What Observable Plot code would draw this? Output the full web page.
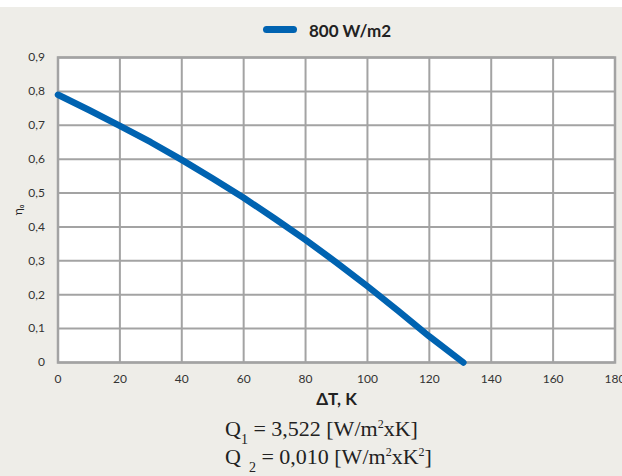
<!DOCTYPE html>
<html>
<head>
<meta charset="utf-8">
<script src="https://cdn.jsdelivr.net/npm/d3@7"></script>
<script src="https://cdn.jsdelivr.net/npm/@observablehq/plot@0.6"></script>
<style>
html, body { margin: 0; padding: 0; background: #ffffff; }
#wrap { position: absolute; top: 7px; left: 0; width: 622px; height: 469px; background: #eeede8; font-family: Lato, "Open Sans", sans-serif; overflow: hidden; }
#legend { position: relative; height: 40px; }
#legend .sw { position: absolute; left: 263px; top: 19px; width: 34px; height: 7px; border-radius: 4px; background: #0063b1; }
#legend .lt { position: absolute; left: 309px; top: 14px; font-weight: bold; font-size: 17px; line-height: 20px; color: #222; }
#chart svg { display: block; }
#formula { font-family: "Liberation Serif", "Times New Roman", serif; font-size: 22px; color: #222; padding-left: 225px; margin-top: 3px; }
#formula .ln { line-height: 28px; height: 28px; white-space: nowrap; }
#formula .sb { font-size: 14px; position: relative; top: 8px; line-height: 0; }
#formula .sp { font-size: 12px; position: relative; top: -8px; line-height: 0; }
</style>
</head>
<body>
<div id="wrap">
  <div id="legend"><div class="sw"></div><div class="lt" id="legtext"></div></div>
  <div id="chart"></div>
  <div id="formula">
    <div class="ln">Q<span class="sb">1</span> = 3,522 [W/m<span class="sp">2</span>xK]</div>
    <div class="ln">Q<span class="sb" style="margin-left:8px">2</span> = 0,010 [W/m<span class="sp">2</span>xK<span class="sp">2</span>]</div>
  </div>
</div>
<script>
// Data
const seriesName = "800 W/m2";
const deltaT = [0, 10, 20, 30, 40, 50, 60, 70, 80, 90, 100, 110, 120, 131];
const eta    = [0.79, 0.745, 0.698, 0.65, 0.598, 0.543, 0.486, 0.425, 0.362, 0.295, 0.225, 0.152, 0.077, 0];
const xTicks = [0, 20, 40, 60, 80, 100, 120, 140, 160, 180];
const yTicks = [0, 0.1, 0.2, 0.3, 0.4, 0.5, 0.6, 0.7, 0.8, 0.9];
const xLabel = "ΔT, K";
const yLabel = "ηₒ";

document.getElementById("legtext").textContent = seriesName;

const data = deltaT.map((d, i) => ({dT: d, eta: eta[i]}));
const comma = d => String(d).replace(".", ",");
const gridColor = "#a3a3a3";

const chart = Plot.plot({
  width: 622,
  height: 365,
  marginTop: 10,
  marginBottom: 50,
  marginLeft: 57.5,
  marginRight: 7.5,
  style: {background: "transparent", fontFamily: "Lato, 'Open Sans', sans-serif", fontSize: "12px", color: "#333", overflow: "visible"},
  x: {domain: [0, 180], ticks: xTicks, tickSize: 0, tickPadding: 12, label: xLabel, labelAnchor: "center", labelOffset: 42, labelArrow: "none"},
  y: {domain: [0, 0.9], ticks: yTicks, tickSize: 0, tickPadding: 13, tickFormat: comma, label: yLabel, labelAnchor: "center", labelOffset: 45, labelArrow: "none"},
  marks: [
    Plot.frame({fill: "white"}),
    Plot.gridX(xTicks, {stroke: gridColor, strokeWidth: 2, strokeOpacity: 1}),
    Plot.gridY(yTicks, {stroke: gridColor, strokeWidth: 2, strokeOpacity: 1}),
    Plot.frame({stroke: gridColor, strokeWidth: 2.5}),
    Plot.line(data, {x: "dT", y: "eta", stroke: "#0063b1", strokeWidth: 6.5, strokeLinecap: "round", strokeLinejoin: "round"})
  ]
});
document.getElementById("chart").appendChild(chart);

d3.select(chart).selectAll('g[aria-label="x-axis label"] text')
  .attr("font-size", "17px").attr("font-weight", "bold").attr("fill", "#222");
d3.select(chart).selectAll('g[aria-label="y-axis label"] text')
  .attr("font-size", "12px").attr("fill", "#222");
</script>
</body>
</html>
